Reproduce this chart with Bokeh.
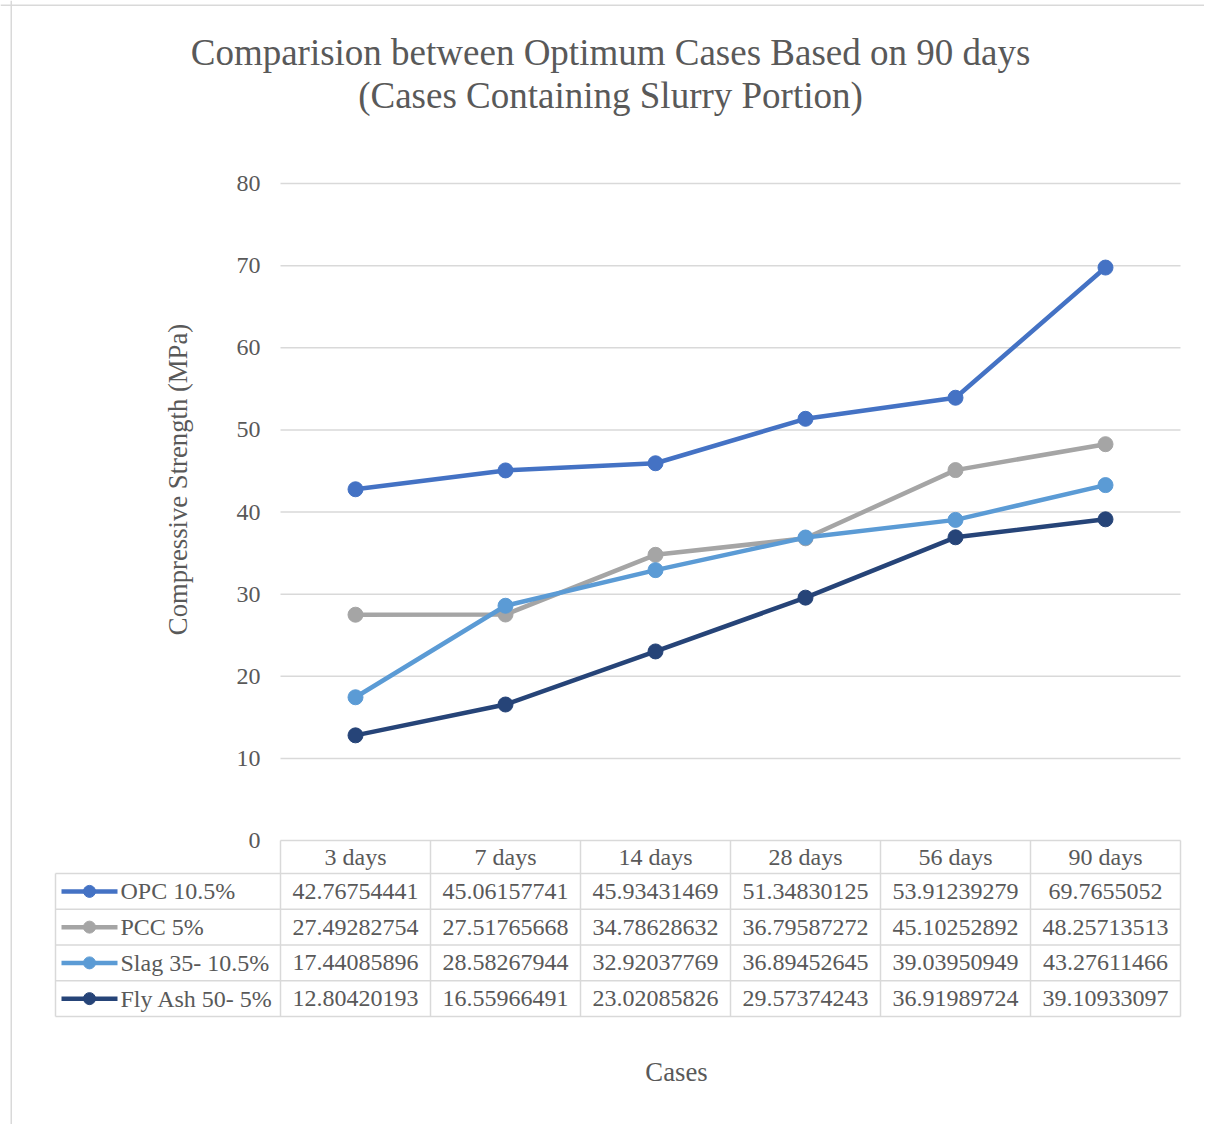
import numpy as np
from bokeh.plotting import figure
from bokeh.models import LinearAxis, FixedTicker, Range1d, Span
from bokeh.core.properties import value
from bokeh.embed import file_html
from bokeh.resources import INLINE

# ---------------- data ----------------
title_lines = ["Comparision between Optimum Cases Based on 90 days",
               "(Cases Containing Slurry Portion)"]
categories = ["3 days", "7 days", "14 days", "28 days", "56 days", "90 days"]
series_names = ["OPC 10.5%", "PCC 5%", "Slag 35- 10.5%", "Fly Ash 50- 5%"]
opc = [42.76754441, 45.06157741, 45.93431469, 51.34830125, 53.91239279, 69.7655052]
pcc = [27.49282754, 27.51765668, 34.78628632, 36.79587272, 45.10252892, 48.25713513]
slag = [17.44085896, 28.58267944, 32.92037769, 36.89452645, 39.03950949, 43.27611466]
fly_ash = [12.80420193, 16.55966491, 23.02085826, 29.57374243, 36.91989724, 39.10933097]
series_values = [opc, pcc, slag, fly_ash]
series_colors = ["#4472C4", "#A5A5A5", "#5B9BD5", "#264478"]
y_ticks = [0, 10, 20, 30, 40, 50, 60, 70, 80]
y_label = "Compressive Strength (MPa)"
x_label = "Cases"

# ---------------- layout helpers (page pixels -> data units) ----------------
PLOT_L, PLOT_R, PLOT_TOP, PLOT_BOT = 280.0, 1180.0, 183.0, 840.0
n = len(categories)
XPX = (PLOT_R - PLOT_L) / n
YPX = (PLOT_BOT - PLOT_TOP) / y_ticks[-1]
FIG_W, FIG_H = 1204, 1124


def dx(px):
    return (px - PLOT_L) / XPX


def dy(py):
    return (PLOT_BOT - py) / YPX


TEXT = "#595959"
GRID = "#D9D9D9"
FONT = value("Liberation Serif")

p = figure(width=FIG_W, height=FIG_H, output_backend="svg", toolbar_location=None,
           x_range=Range1d(dx(0), dx(FIG_W)), y_range=Range1d(dy(FIG_H), dy(0)),
           x_axis_type=None, y_axis_type=None,
           min_border_left=0, min_border_right=0, min_border_top=0, min_border_bottom=0)
p.outline_line_color = None
p.background_fill_color = "white"
p.border_fill_color = "white"

# chart border (top and left visible)
p.add_layout(Span(location=dx(10.75), dimension="height", line_color=GRID, line_width=1.5))
p.add_layout(Span(location=dy(4.75), dimension="width", line_color=GRID, line_width=1.5))

# y axis
yaxis = LinearAxis(fixed_location=0, ticker=FixedTicker(ticks=y_ticks))
yaxis.axis_line_color = None
yaxis.major_tick_line_color = None
yaxis.minor_tick_line_color = None
yaxis.major_label_text_font = "Liberation Serif"
yaxis.major_label_text_font_size = "24px"
yaxis.major_label_text_color = TEXT
yaxis.major_label_standoff = 14
p.add_layout(yaxis, "left")

# gridlines
p.segment(x0=[0] * len(y_ticks), y0=y_ticks, x1=[n] * len(y_ticks), y1=y_ticks,
          line_color=GRID, line_width=1.5)

# data table grid
HEAD_BOT = 873.0
ROW_H = 35.75
row_bottoms = [HEAD_BOT + ROW_H * (k + 1) for k in range(len(series_names))]
table_bot = dy(row_bottoms[-1])
hy = [dy(HEAD_BOT)] + [dy(b) for b in row_bottoms]
p.segment(x0=[dx(55)] * len(hy), y0=hy, x1=[n] * len(hy), y1=hy, line_color=GRID, line_width=1.5)
vx = list(range(n + 1))
p.segment(x0=vx, y0=[0] * len(vx), x1=vx, y1=[table_bot] * len(vx), line_color=GRID, line_width=1.5)
p.segment(x0=[dx(55)], y0=[dy(HEAD_BOT)], x1=[dx(55)], y1=[table_bot], line_color=GRID, line_width=1.5)

xc = np.arange(n) + 0.5

# header
p.text(x=xc, y=[dy((PLOT_BOT + HEAD_BOT) / 2)] * n, text=categories, text_font=FONT,
       text_font_size="24px", text_color=TEXT, text_align="center", text_baseline="middle")

# series lines, markers, table rows
for r, (name, vals, col) in enumerate(zip(series_names, series_values, series_colors)):
    p.line(xc, vals, line_color=col, line_width=4.5)
    p.scatter(xc, vals, size=15, fill_color=col, line_color=col)
    ry = dy(HEAD_BOT + ROW_H * (r + 0.5))
    p.text(x=xc, y=[ry] * n, text=["%.10g" % v for v in vals], text_font=FONT,
           text_font_size="24px", text_color=TEXT, text_align="center", text_baseline="middle")
    p.segment(x0=[dx(61)], y0=[ry], x1=[dx(117)], y1=[ry], line_color=col, line_width=4.5)
    p.scatter([dx(89)], [ry], size=12, fill_color=col, line_color=col)
    p.text(x=[dx(120)], y=[ry], text=[name], text_font=FONT, text_font_size="24px",
           text_color=TEXT, text_align="left", text_baseline="middle")

# title
p.text(x=[dx(610), dx(610)], y=[dy(52), dy(95)], text=title_lines, text_font=FONT,
       text_font_size="37px", text_color=TEXT, text_align="center", text_baseline="middle")

# axis titles
p.text(x=[dx(177)], y=[dy(479)], text=[y_label], angle=np.pi / 2, text_font=FONT,
       text_font_size="26.7px", text_color=TEXT, text_align="center", text_baseline="middle")
p.text(x=[dx(676)], y=[dy(1071)], text=[x_label], text_font=FONT,
       text_font_size="26.7px", text_color=TEXT, text_align="center", text_baseline="middle")

open("out.html", "w").write(file_html(p, INLINE))
